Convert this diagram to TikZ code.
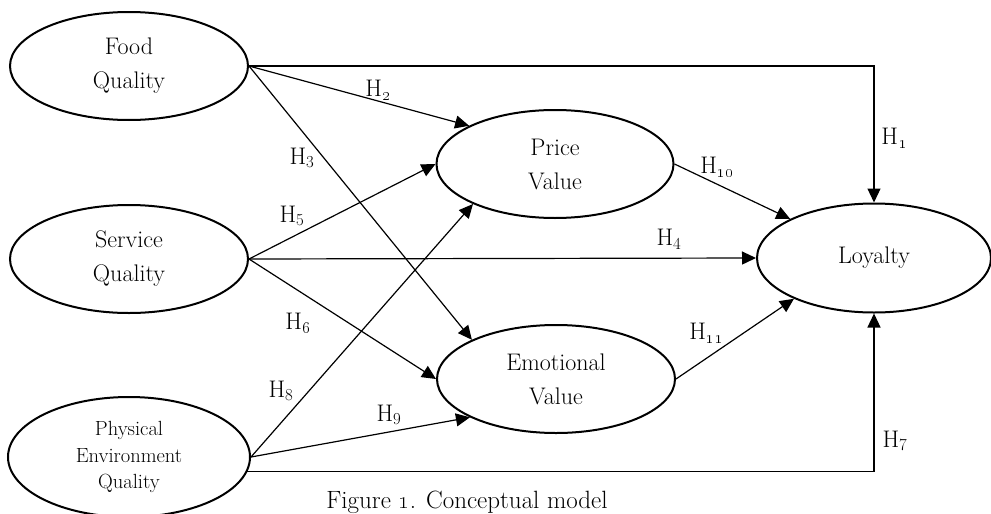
\documentclass[tikz,border=0pt]{standalone}
\usetikzlibrary{shapes.geometric,arrows.meta}
\begin{document}
\begin{tikzpicture}[x=1pt,y=-1pt,
  lat/.style={draw, ellipse, line width=2pt, inner sep=0pt, align=center,
    font=\fontsize{24}{34}\selectfont},
  conn/.style={line width=1.2pt, -{Triangle[length=14pt,width=13pt]}},
  hl/.style={font=\fontsize{24}{26}\selectfont, inner sep=0pt}]
\useasboundingbox (0,0) rectangle (991,514);
% latent variables
\node[lat, minimum width=238pt, minimum height=108pt] (fq) at (129,66) {Food\\Quality};
\node[lat, minimum width=238pt, minimum height=108pt] (sq) at (129,259) {Service\\Quality};
\node[lat, minimum width=242pt, minimum height=120pt,
  font=\fontsize{20.5}{26.7}\selectfont] (pe) at (129,457) {Physical\\Environment\\Quality};
\node[lat, minimum width=237pt, minimum height=108pt] (pv) at (555,164) {Price\\Value};
\node[lat, minimum width=238pt, minimum height=108pt] (ev) at (556,379) {Emotional\\Value};
\node[lat, minimum width=234pt, minimum height=109pt] (ly) at (874,258) {Loyalty};
% paths
\draw[conn] (fq.east) -| (ly.north);
\draw[conn] (fq.east) -- (pv.156);
\draw[conn] (fq.east) -- (ev.155);
\draw[conn] (sq.east) -- (pv.west);
\draw[conn] (sq.east) -- (ly.west);
\draw[conn] (sq.east) -- (ev.west);
\draw[conn] (pe.east) -- (pv.206);
\draw[conn] (pe.east) -- (ev.204);
\draw[conn] (pe.-7) -| (ly.south);
\draw[conn] (pv.east) -- (ly.155);
\draw[conn] (ev.east) -- (ly.207);
% labels
\node[hl] (h1) at (894,138) {H\textsubscript{\oldstylenums{1}}};
\node[hl] (h2) at (378,90) {H\textsubscript{\oldstylenums{2}}};
\node[hl] (h3) at (302,158) {H\textsubscript{3}};
\node[hl] (h4) at (669,239) {H\textsubscript{4}};
\node[hl] (h5) at (292,216) {H\textsubscript{5}};
\node[hl] (h6) at (298,323) {H\textsubscript{\oldstylenums{6}}};
\node[hl] (h7) at (895,441) {H\textsubscript{7}};
\node[hl] (h8) at (281,391) {H\textsubscript{8}};
\node[hl] (h9) at (389,415) {H\textsubscript{9}};
\node[hl] (h10) at (717,167) {H\textsubscript{\oldstylenums{10}}};
\node[hl] (h11) at (706,333) {H\textsubscript{\oldstylenums{11}}};
% caption
\node[font=\fontsize{25}{28}\selectfont, anchor=base, inner sep=0pt] (cap) at (467,508)
  {Figure \oldstylenums{1}. Conceptual model};
\end{tikzpicture}
\end{document}
